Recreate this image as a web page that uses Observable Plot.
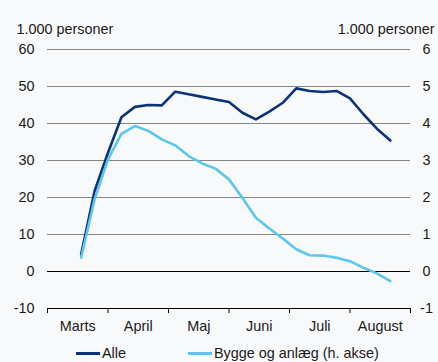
<!DOCTYPE html>
<html><head><meta charset="utf-8">
<script src="https://cdn.jsdelivr.net/npm/d3@7"></script>
<script src="https://cdn.jsdelivr.net/npm/@observablehq/plot@0.6"></script>
<style>
body{margin:0;background:#f8f9fa;font-family:"Liberation Sans",Arial,sans-serif;}
#wrap{position:relative;width:438px;height:362px;background:#f8f9fa;overflow:hidden;}
.leg{position:absolute;top:345px;font-size:14.4px;color:#1a1a1a;display:flex;align-items:center;white-space:nowrap;}
.sw{display:inline-block;width:24px;height:3px;margin-right:2px;}
</style></head><body><div id="wrap"></div>
<script>
// Week numbers (2020) of the weekly observations
const weeks = [12,13,14,15,16,17,18,19,20,21,22,23,24,25,26,27,28,29,30,31,32,33,34,35];
// Alle, 1.000 personer (left axis)
const alle = [4.6,21.7,32.1,41.7,44.5,45.0,44.9,48.6,47.9,47.2,46.5,45.8,42.9,41.1,43.2,45.6,49.5,48.8,48.5,48.8,46.8,42.5,38.6,35.4];
// Bygge og anlæg, 1.000 personer (right axis)
const bygge = [0.37,1.95,3.03,3.72,3.93,3.80,3.57,3.41,3.12,2.92,2.78,2.49,1.99,1.45,1.16,0.89,0.60,0.44,0.43,0.37,0.28,0.10,-0.05,-0.26];
const monthLabels = ["Marts","April","Maj","Juni","Juli","August"];
const monthStartWeeks = [9.5,14,18.5,23,27.5,32,36.5];
const leftTicks = [-10,0,10,20,30,40,50,60];
const rightTicks = [-1,0,1,2,3,4,5,6];
const unitLabel = "1.000 personer";
const seriesNames = ["Alle","Bygge og anlæg (h. akse)"];
const colors = ["#0b3478","#5cc6ec"];

const ratio = 10; // right axis to left axis
const rows = weeks.map((w,i)=>({week:w, alle:alle[i], bygge:bygge[i]}));
const monthMids = monthLabels.map((m,i)=>(monthStartWeeks[i]+monthStartWeeks[i+1])/2);
const labelByMid = new Map(monthMids.map((v,i)=>[v,monthLabels[i]]));

const chart = Plot.plot({
  width:438, height:336,
  marginTop:49, marginBottom:28, marginLeft:47, marginRight:28,
  style:{background:"#f8f9fa", fontSize:"14.4px", fontFamily:"'Liberation Sans', Arial, sans-serif", color:"#1a1a1a"},
  x:{type:"linear", domain:[monthStartWeeks[0], monthStartWeeks[monthStartWeeks.length-1]]},
  y:{domain:[leftTicks[0], leftTicks[leftTicks.length-1]]},
  marks:[
    Plot.ruleY(leftTicks.filter(t=>t>0), {stroke:"#858585", strokeWidth:1}),
    Plot.ruleY([0], {stroke:"#000", strokeWidth:1.2}),
    Plot.ruleY([leftTicks[0]], {stroke:"#000", strokeWidth:1.2}),
    Plot.axisX(monthStartWeeks, {anchor:"bottom", tickSize:5, tickFormat:()=>"", label:null, stroke:"#000"}),
    Plot.axisX(monthMids, {anchor:"bottom", tickSize:0, tickPadding:12, tickFormat:d=>labelByMid.get(d), label:null}),
    Plot.axisY(leftTicks, {anchor:"left", tickSize:0, tickPadding:13, tickFormat:d=>String(d), label:null}),
    Plot.axisY(rightTicks.map(t=>t*ratio), {anchor:"right", tickSize:0, tickPadding:16, textAnchor:"middle", tickFormat:d=>String(d/ratio), label:null}),
    Plot.line(rows, {x:"week", y:"alle", stroke:colors[0], strokeWidth:2.6}),
    Plot.line(rows, {x:"week", y:d=>d.bygge*ratio, stroke:colors[1], strokeWidth:2.6}),
    Plot.text([unitLabel], {frameAnchor:"top-left", textAnchor:"start", dx:-31, dy:-26, fill:"#1a1a1a"}),
    Plot.text([unitLabel], {frameAnchor:"top-right", textAnchor:"end", dx:24, dy:-26, fill:"#1a1a1a"})
  ]
});
const wrap = document.getElementById("wrap");
wrap.appendChild(chart);
const legPos = [76,188];
seriesNames.forEach((n,i)=>{
  const d = document.createElement("div");
  d.className="leg"; d.style.left=legPos[i]+"px";
  const s = document.createElement("span"); s.className="sw"; s.style.background=colors[i];
  d.appendChild(s); d.appendChild(document.createTextNode(n));
  wrap.appendChild(d);
});
</script></body></html>
